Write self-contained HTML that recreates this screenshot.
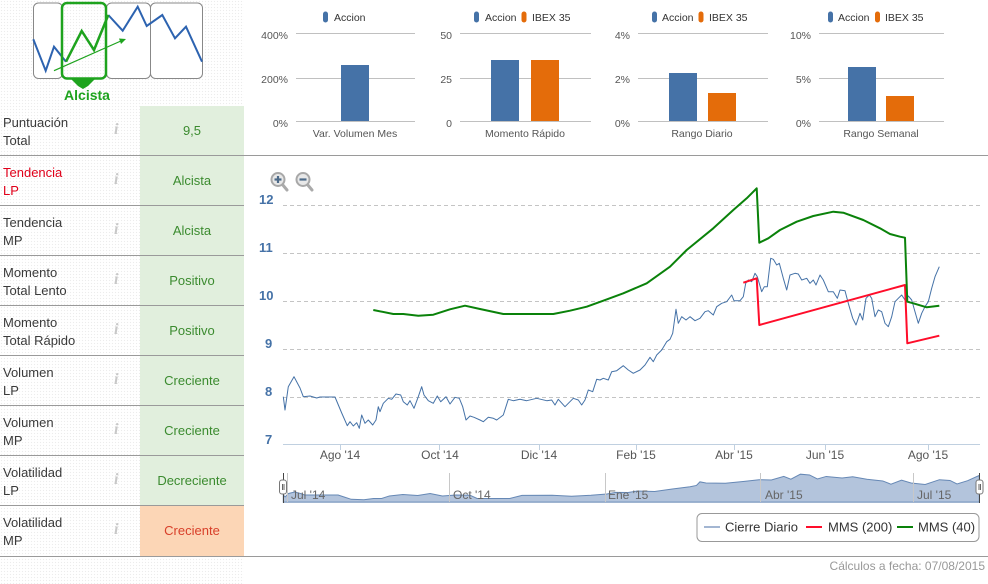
<!DOCTYPE html>
<html><head><meta charset="utf-8">
<style>
*{margin:0;padding:0;box-sizing:border-box}
body{width:988px;height:584px;position:relative;overflow:hidden;background:#fff;font-family:"Liberation Sans",sans-serif}
.dots{position:absolute;left:0;top:0;width:244px;height:584px;background-color:#fff;background-image:radial-gradient(#ececec 0.7px,transparent 0.8px);background-size:3px 3px}
.row{position:absolute;left:0;width:244px;height:50px}
.lab{position:absolute;left:3px;top:8px;font-size:13px;line-height:18px;color:#3a3a3a}
.info{position:absolute;left:114px;top:15px;font-family:"Liberation Serif",serif;font-style:italic;font-weight:bold;font-size:16px;color:#c8c8c8}
.val{position:absolute;left:140px;top:0;width:104px;height:50px;background:#e1efdd;color:#3b8b2f;font-size:13px;text-align:center;line-height:50px}
.sep{position:absolute;left:0;height:1px;background:#9a9a9a}
svg{position:absolute;left:0;top:0}
</style></head><body>
<div class="dots"></div>

<div class="row" style="top:106px"><div class="lab">Puntuación<br>Total</div><div class="info">i</div><div class="val">9,5</div></div>
<div class="row" style="top:156px"><div class="lab" style="color:#e0001a">Tendencia<br>LP</div><div class="info">i</div><div class="val">Alcista</div></div>
<div class="row" style="top:206px"><div class="lab">Tendencia<br>MP</div><div class="info">i</div><div class="val">Alcista</div></div>
<div class="row" style="top:256px"><div class="lab">Momento<br>Total Lento</div><div class="info">i</div><div class="val">Positivo</div></div>
<div class="row" style="top:306px"><div class="lab">Momento<br>Total Rápido</div><div class="info">i</div><div class="val">Positivo</div></div>
<div class="row" style="top:356px"><div class="lab">Volumen<br>LP</div><div class="info">i</div><div class="val">Creciente</div></div>
<div class="row" style="top:406px"><div class="lab">Volumen<br>MP</div><div class="info">i</div><div class="val">Creciente</div></div>
<div class="row" style="top:456px"><div class="lab">Volatilidad<br>LP</div><div class="info">i</div><div class="val">Decreciente</div></div>
<div class="row" style="top:506px"><div class="lab">Volatilidad<br>MP</div><div class="info">i</div><div class="val" style="background:#fcd6b6;color:#d8402a">Creciente</div></div>

<div class="sep" style="top:155px;width:988px"></div>
<div class="sep" style="top:205px;width:244px"></div>
<div class="sep" style="top:255px;width:244px"></div>
<div class="sep" style="top:305px;width:244px"></div>
<div class="sep" style="top:355px;width:244px"></div>
<div class="sep" style="top:405px;width:244px"></div>
<div class="sep" style="top:455px;width:244px"></div>
<div class="sep" style="top:505px;width:244px"></div>
<div class="sep" style="top:556px;width:988px"></div>

<svg width="988" height="584" viewBox="0 0 988 584" font-family="Liberation Sans, sans-serif">
<!-- top-left icon -->
<g>
<rect x="33.5" y="3" width="29" height="75.5" rx="5" fill="#fff" stroke="#888" stroke-width="1"/>
<rect x="106.5" y="3" width="44" height="75.5" rx="5" fill="#fff" stroke="#888" stroke-width="1"/>
<rect x="150.5" y="3" width="52" height="75.5" rx="5" fill="#fff" stroke="#888" stroke-width="1"/>
<polyline points="33.3,39.3 45.7,70.7 54,46.7 66,61.7" fill="none" stroke="#2d63b0" stroke-width="2"/>
<polyline points="108.3,15 122.7,30.7 137.7,6.7 146.7,26 162.3,15 175,38.3 186,26.7 202,61.7" fill="none" stroke="#2d63b0" stroke-width="2"/>
<rect x="62" y="3" width="44" height="75.5" rx="5" fill="none" stroke="#1ea31e" stroke-width="2.5"/>
<polygon points="70,78 96,78 88,86 83,89 78,86" fill="#1ea31e"/>
<polyline points="66,61.7 81.7,31 94,50 108.3,15" fill="none" stroke="#1ea31e" stroke-width="2.5"/>
<line x1="54" y1="70.7" x2="122" y2="40.5" stroke="#1ea31e" stroke-width="1.2"/>
<polygon points="126,39 119,38.5 121,44" fill="#1ea31e"/>
<text x="87" y="100" text-anchor="middle" font-size="14" font-weight="bold" fill="#1ea31e">Alcista</text>
</g>

<!-- top bar charts -->
<g font-size="10.5" fill="#555">
<!-- chart 1 -->
<rect x="323" y="11.5" width="5" height="11" rx="2.5" fill="#4572a7"/><text x="334" y="21" fill="#333">Accion</text>
<line x1="296" y1="33.5" x2="415" y2="33.5" stroke="#c0c0c0"/><line x1="296" y1="78.5" x2="415" y2="78.5" stroke="#c0c0c0"/><line x1="296" y1="121.5" x2="415" y2="121.5" stroke="#c0c0c0"/>
<text x="288" y="39" text-anchor="end">400%</text><text x="288" y="83" text-anchor="end">200%</text><text x="288" y="127" text-anchor="end">0%</text>
<rect x="341" y="65" width="28" height="56" fill="#4572a7"/>
<text x="355" y="137" text-anchor="middle">Var. Volumen Mes</text>
<!-- chart 2 -->
<rect x="474" y="11.5" width="5" height="11" rx="2.5" fill="#4572a7"/><text x="485" y="21" fill="#333">Accion</text>
<rect x="521.5" y="11.5" width="5" height="11" rx="2.5" fill="#e46c0a"/><text x="532" y="21" fill="#333">IBEX 35</text>
<line x1="460" y1="33.5" x2="591" y2="33.5" stroke="#c0c0c0"/><line x1="460" y1="78.5" x2="591" y2="78.5" stroke="#c0c0c0"/><line x1="460" y1="121.5" x2="591" y2="121.5" stroke="#c0c0c0"/>
<text x="452" y="39" text-anchor="end">50</text><text x="452" y="83" text-anchor="end">25</text><text x="452" y="127" text-anchor="end">0</text>
<rect x="491" y="60" width="28" height="61" fill="#4572a7"/><rect x="531" y="60" width="28" height="61" fill="#e46c0a"/>
<text x="525" y="137" text-anchor="middle">Momento Rápido</text>
<!-- chart 3 -->
<rect x="652" y="11.5" width="5" height="11" rx="2.5" fill="#4572a7"/><text x="662" y="21" fill="#333">Accion</text>
<rect x="698.5" y="11.5" width="5" height="11" rx="2.5" fill="#e46c0a"/><text x="709" y="21" fill="#333">IBEX 35</text>
<line x1="638" y1="33.5" x2="768" y2="33.5" stroke="#c0c0c0"/><line x1="638" y1="78.5" x2="768" y2="78.5" stroke="#c0c0c0"/><line x1="638" y1="121.5" x2="768" y2="121.5" stroke="#c0c0c0"/>
<text x="630" y="39" text-anchor="end">4%</text><text x="630" y="83" text-anchor="end">2%</text><text x="630" y="127" text-anchor="end">0%</text>
<rect x="669" y="73" width="28" height="48" fill="#4572a7"/><rect x="708" y="93" width="28" height="28" fill="#e46c0a"/>
<text x="702" y="137" text-anchor="middle">Rango Diario</text>
<!-- chart 4 -->
<rect x="828" y="11.5" width="5" height="11" rx="2.5" fill="#4572a7"/><text x="838" y="21" fill="#333">Accion</text>
<rect x="875" y="11.5" width="5" height="11" rx="2.5" fill="#e46c0a"/><text x="885" y="21" fill="#333">IBEX 35</text>
<line x1="819" y1="33.5" x2="944" y2="33.5" stroke="#c0c0c0"/><line x1="819" y1="78.5" x2="944" y2="78.5" stroke="#c0c0c0"/><line x1="819" y1="121.5" x2="944" y2="121.5" stroke="#c0c0c0"/>
<text x="811" y="39" text-anchor="end">10%</text><text x="811" y="83" text-anchor="end">5%</text><text x="811" y="127" text-anchor="end">0%</text>
<rect x="848" y="67" width="28" height="54" fill="#4572a7"/><rect x="886" y="96" width="28" height="25" fill="#e46c0a"/>
<text x="881" y="137" text-anchor="middle">Rango Semanal</text>
</g>

<!-- zoom icons -->
<g>
<line x1="282" y1="184" x2="287" y2="190" stroke="#aaa" stroke-width="3" stroke-linecap="round"/>
<circle cx="278" cy="179.5" r="6.5" fill="#e8e8e8" stroke="#a8a8a8" stroke-width="2"/>
<line x1="274.5" y1="179.5" x2="281.5" y2="179.5" stroke="#4d6a88" stroke-width="2.2"/><line x1="278" y1="176" x2="278" y2="183" stroke="#4d6a88" stroke-width="2.2"/>
<line x1="307" y1="184" x2="312" y2="190" stroke="#aaa" stroke-width="3" stroke-linecap="round"/>
<circle cx="303" cy="179.5" r="6.5" fill="#e8e8e8" stroke="#a8a8a8" stroke-width="2"/>
<line x1="299.5" y1="179.5" x2="306.5" y2="179.5" stroke="#4d6a88" stroke-width="2.2"/>
</g>

<!-- main chart grid -->
<g stroke="#c4c4c4" stroke-dasharray="4,3">
<line x1="283" y1="205.5" x2="980" y2="205.5"/><line x1="283" y1="253.5" x2="980" y2="253.5"/><line x1="283" y1="301.5" x2="980" y2="301.5"/><line x1="283" y1="349.5" x2="980" y2="349.5"/><line x1="283" y1="397.5" x2="980" y2="397.5"/>
</g>
<line x1="283" y1="444.5" x2="980" y2="444.5" stroke="#c0d0e0"/>
<g stroke="#c0d0e0"><line x1="340.5" y1="444" x2="340.5" y2="450"/><line x1="439.5" y1="444" x2="439.5" y2="450"/><line x1="539.5" y1="444" x2="539.5" y2="450"/><line x1="636.5" y1="444" x2="636.5" y2="450"/><line x1="734.5" y1="444" x2="734.5" y2="450"/><line x1="825.5" y1="444" x2="825.5" y2="450"/><line x1="928.5" y1="444" x2="928.5" y2="450"/></g>
<g font-size="13" font-weight="bold" fill="#4572a7">
<text x="259" y="204">12</text><text x="259" y="252">11</text><text x="259" y="300">10</text><text x="265" y="348">9</text><text x="265" y="396">8</text><text x="265" y="444">7</text>
</g>
<g font-size="12" fill="#555" text-anchor="middle">
<text x="340" y="459">Ago '14</text><text x="440" y="459">Oct '14</text><text x="539" y="459">Dic '14</text><text x="636" y="459">Feb '15</text><text x="734" y="459">Abr '15</text><text x="825" y="459">Jun '15</text><text x="928" y="459">Ago '15</text>
</g>

<!-- series -->
<polyline id="price" fill="none" stroke="#4572a7" stroke-width="1" stroke-linejoin="round" points="283.3,396.7 285,410 288.3,386.7 294,376.7 300,388 303.3,396.7 310,396 316.7,398 320,397 335,397 341.7,413 347.3,425.7 350,421.7 353.3,426 356.7,422.7 359.3,428.3 361.7,415 365,423.3 368.3,420 372.7,425 376,420 378.3,406.7 380,411.7 383.3,403.3 388.3,398.3 391.7,399.3 396,394 400.7,395 403.3,401.7 407.3,405 410,400.7 414,408.3 418.3,396.7 421.7,386.7 424,395 428.3,400.7 433.3,403.3 437.3,396 440.7,401.7 446,396.7 450,404 455,397.3 459.3,398.3 462.7,406.7 466,420 470,416 474,417.3 480,420 483.3,421.7 488.3,417.3 493.3,418.3 496.7,420 503.3,415 508.3,399.3 513.3,400.7 520,399.3 526.7,400.7 536.7,398.3 546.7,400.7 551.7,400 555,405 558.3,399.3 565,406.7 573.3,398.3 578.3,400 581.7,405 585,400 588.3,390 592.7,391.7 596.7,379.3 600,380 603.3,378.3 608.3,380 611.7,371.7 616.7,370.7 623.3,365.7 628.3,370 633.3,373.3 640,370 645,365 650,357.3 653.3,361.7 656.7,355 661.7,350 666.7,341.7 670,339.3 672.7,333.3 676,309.3 678.3,323.3 681.7,316.7 686,320 690,316.7 695,320.7 700,318.3 705,311.7 708.3,310.7 713.3,315 716.7,306.7 721.7,303.3 726.7,301.7 731.7,295 734,300.7 740,300.7 743.3,296.7 745.7,283.3 748.3,280 751.7,281.7 755,273.3 757.3,276.7 761.7,291.7 764.3,286.7 767.3,286.7 770.7,258.3 773.3,259.3 776.7,265 779.3,263.3 783.3,278.3 786.7,290 790,275 795,273.3 798.3,274 801.7,280 806.7,278.3 810,283.3 813.3,280 816,285 820,275 823.3,280 828.3,291.7 833.3,291.7 837.3,298.3 840,290 845,290.7 848.3,303.3 852.7,318.3 856,325 860,313.3 862.7,320 866,298.3 869.3,295 871.7,298.3 875,316.7 878.3,310 881.7,311.7 885,323.3 888.3,326.7 891.7,316.7 895,301.7 898.3,298.3 901.7,295 905,300 908.3,296 911.7,300 915,311.7 918.3,323.3 921.7,313.3 925,306.7 928.3,301.7 931.7,288.3 935,276.7 939.3,266.7"/>
<polyline fill="none" stroke="#ff0d2a" stroke-width="2" stroke-linejoin="round" points="743.3,282.7 756.7,278.3 759.3,325 905,285 907.3,343.3 939.3,335.7"/>
<polyline fill="none" stroke="#0a820a" stroke-width="2" stroke-linejoin="round" points="373.3,310 393.3,314 403.3,314 418.3,315.7 433.3,314.7 450,309.3 465,305.7 480,309 503.3,314 553.3,314 570,310.7 586.7,306.7 603.3,300.7 623.3,293.3 646.7,283.3 670,266.7 686.7,250 713.3,228.3 733.3,210 746.7,198.3 756.7,188.3 759.3,242.7 768.3,238.3 780,230 796.7,221.7 813.3,216 833.3,211.7 843.3,212.7 863.3,220 880,228.3 890,234 900,236.7 905,237.7 907.3,301.7 913.3,303.3 926.7,307.3 939.3,305.7"/>

<!-- navigator -->
<g>
<path transform="matrix(1.061,0,0,0.15,-17.3,435.45)" fill="#b3c4dc" stroke="#6688b5" stroke-width="1" vector-effect="non-scaling-stroke" d="M283.3,396.7 L285,410 288.3,386.7 294,376.7 300,388 303.3,396.7 320,397 335,397 341.7,413 347.3,425.7 359.3,428.3 368.3,420 376,420 383.3,403.3 396,394 410,400.7 421.7,386.7 433.3,403.3 446,396.7 459.3,398.3 466,420 480,420 496.7,420 508.3,399.3 536.7,398.3 555,405 573.3,398.3 588.3,390 596.7,379.3 608.3,380 616.7,370.7 633.3,373.3 650,357.3 666.7,341.7 672.7,333.3 676,309.3 681.7,316.7 700,318.3 716.7,306.7 731.7,295 743.3,296.7 755,273.3 761.7,291.7 770.7,258.3 779.3,263.3 786.7,290 795,273.3 810,283.3 820,275 833.3,291.7 848.3,303.3 856,325 866,298.3 875,316.7 888.3,326.7 901.7,295 911.7,300 918.3,323.3 928.3,301.7 939.3,266.7 L939.3,444.7 L283.3,444.7 Z"/>
<g stroke="#c8c8c8"><line x1="287.5" y1="473" x2="287.5" y2="502"/><line x1="449.5" y1="473" x2="449.5" y2="502"/><line x1="605.5" y1="473" x2="605.5" y2="502"/><line x1="760.5" y1="473" x2="760.5" y2="502"/><line x1="913.5" y1="473" x2="913.5" y2="502"/></g>
<g font-size="12" fill="#666"><text x="291" y="499">Jul '14</text><text x="453" y="499">Oct '14</text><text x="608" y="499">Ene '15</text><text x="765" y="499">Abr '15</text><text x="917" y="499">Jul '15</text></g>
<line x1="283.5" y1="473" x2="283.5" y2="503" stroke="#444"/>
<rect x="279.5" y="480" width="7" height="14" rx="2.5" fill="#fff" stroke="#777"/>
<line x1="282.5" y1="484" x2="282.5" y2="490" stroke="#666"/><line x1="284" y1="484" x2="284" y2="490" stroke="#666"/>
<line x1="979.5" y1="473" x2="979.5" y2="503" stroke="#444"/>
<rect x="976" y="480" width="7" height="14" rx="2.5" fill="#fff" stroke="#777"/>
<line x1="979" y1="484" x2="979" y2="490" stroke="#666"/><line x1="980.5" y1="484" x2="980.5" y2="490" stroke="#666"/>
</g>

<!-- legend -->
<rect x="697" y="513.5" width="282" height="28" rx="5" fill="#fff" stroke="#999"/>
<line x1="704" y1="527" x2="720" y2="527" stroke="#a3b6d2" stroke-width="2"/>
<text x="725" y="531.5" font-size="13" fill="#333">Cierre Diario</text>
<line x1="806" y1="527" x2="822" y2="527" stroke="#ff0d2a" stroke-width="2"/>
<text x="828" y="531.5" font-size="13" fill="#333">MMS (200)</text>
<line x1="897" y1="527" x2="913" y2="527" stroke="#0a820a" stroke-width="2"/>
<text x="918" y="531.5" font-size="13" fill="#333">MMS (40)</text>

<text x="985" y="570" text-anchor="end" font-size="12" fill="#999">Cálculos a fecha: 07/08/2015</text>
</svg>
</body></html>
